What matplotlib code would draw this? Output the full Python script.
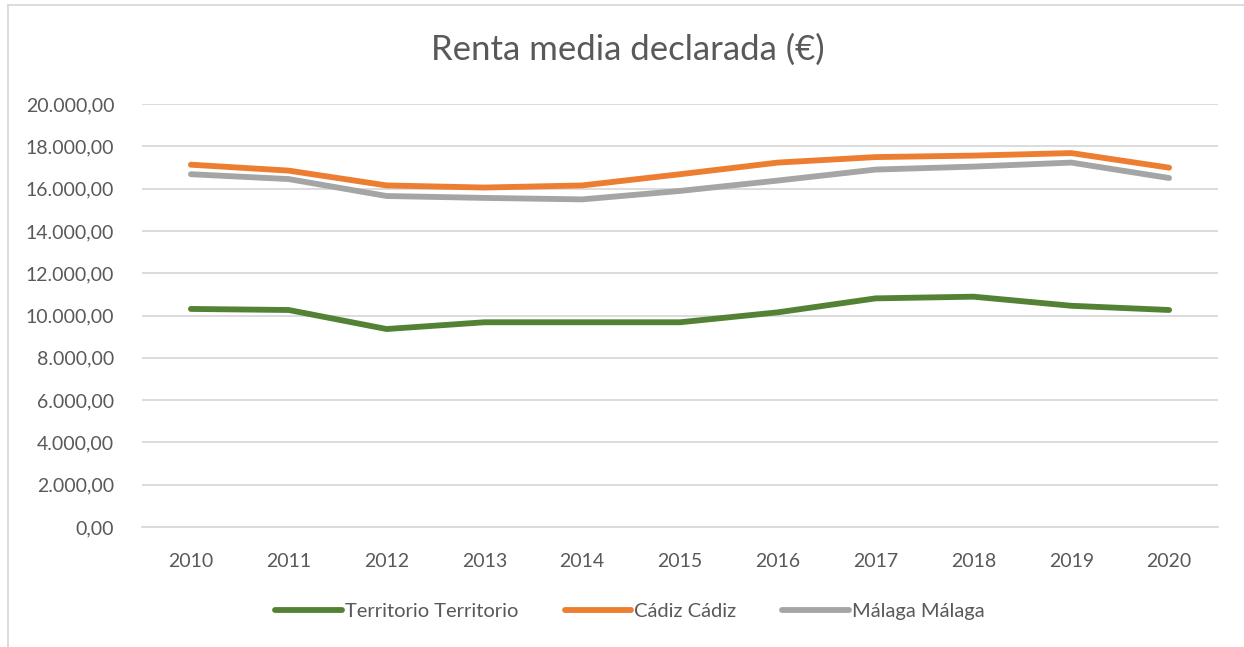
import matplotlib
matplotlib.use("Agg")
import matplotlib.pyplot as plt
from matplotlib.ticker import FuncFormatter
from matplotlib.lines import Line2D

years = [2010, 2011, 2012, 2013, 2014, 2015, 2016, 2017, 2018, 2019, 2020]
territorio = [10310, 10260, 9360, 9680, 9680, 9680, 10150, 10810, 10890, 10460, 10260]
cadiz = [17130, 16850, 16150, 16050, 16150, 16680, 17230, 17490, 17560, 17680, 16990]
malaga = [16680, 16450, 15650, 15560, 15490, 15890, 16380, 16900, 17040, 17230, 16500]

series_names = ["Territorio Territorio", "Cádiz Cádiz", "Málaga Málaga"]
colors = ["#548235", "#ED7D31", "#A5A5A5"]
text_col = "#595959"

plt.rcParams['font.family'] = ['Lato', 'DejaVu Sans']

fig = plt.figure(figsize=(12.44, 6.47), dpi=100)
ax = fig.add_axes([142/1244, 1 - 527/647, (1218-142)/1244, (527-104)/647])

x = list(range(len(years)))
for vals, c in zip([territorio, cadiz, malaga], colors):
    ax.plot(x, vals, color=c, lw=4.2, solid_capstyle='round', solid_joinstyle='round', zorder=3)

ax.set_xlim(-0.5, len(years) - 0.5)
ax.set_ylim(0, 20000)
ax.set_yticks(range(0, 20001, 2000))
ax.yaxis.set_major_formatter(FuncFormatter(lambda v, p: f"{int(v):,}".replace(",", ".") + ",00"))
ax.set_xticks(x)
ax.set_xticklabels([str(y) for y in years])
ax.grid(axis='y', color='#D9D9D9', lw=1.3, zorder=0)
for s in ax.spines.values():
    s.set_visible(False)
ax.spines['bottom'].set_visible(True)
ax.spines['bottom'].set_color('#D9D9D9')
ax.spines['bottom'].set_linewidth(1.3)
ax.tick_params(length=0, colors=text_col, labelsize=14)
ax.tick_params(axis='x', pad=19)
ax.tick_params(axis='y', pad=20)

fig.text(628/1244, 1 - 50/647, "Renta media declarada (€)", ha='center', va='center',
         fontsize=25, color=text_col)

handles = [Line2D([0], [0], color=c, lw=4.2, solid_capstyle='round') for c in colors]
fig.legend(handles, series_names, loc='center', bbox_to_anchor=(630/1244, 1 - 611/647),
           ncol=3, frameon=False, fontsize=14.5, labelcolor=text_col,
           handlelength=3.3, handletextpad=0.15, columnspacing=2.3)

# chart area border (only top and left visible in the crop)
fig.add_artist(Line2D([8/1244, 8/1244], [0, 1 - 5/647], color='#D9D9D9', lw=1.3))
fig.add_artist(Line2D([8/1244, 1], [1 - 5/647, 1 - 5/647], color='#D9D9D9', lw=1.3))

fig.savefig("out.png", dpi=100)
